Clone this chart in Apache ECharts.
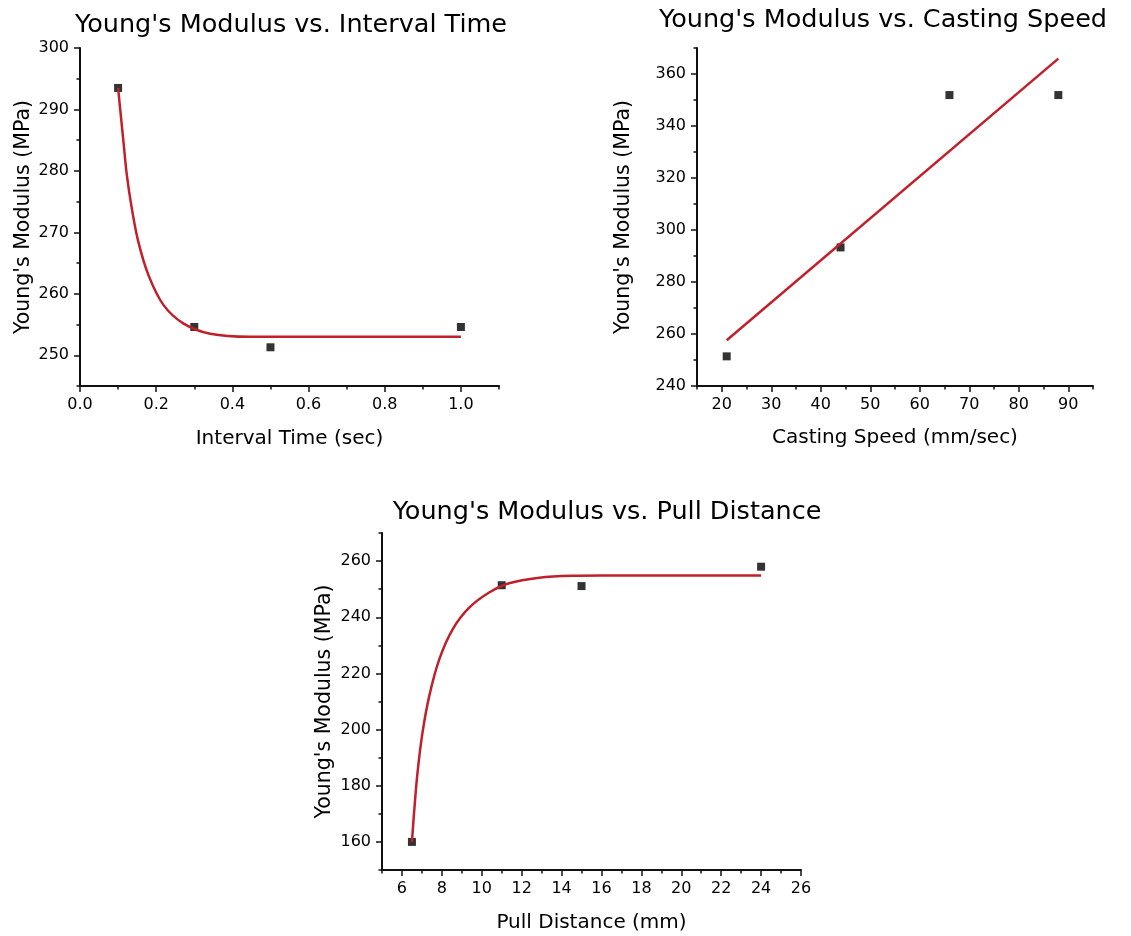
<!DOCTYPE html>
<html>
<head>
<meta charset="utf-8">
<title>Young's Modulus</title>
<script src="https://cdn.jsdelivr.net/npm/echarts@6.0.0/dist/echarts.min.js"></script>
<style>
  html, body { margin: 0; padding: 0; background: #fff; }
  #main { width: 1131px; height: 936px; }
</style>
</head>
<body>
<div id="main"></div>
<script>
// measured points
const intervalTime = [0.1, 0.3, 0.5, 1.0];
const modulusByInterval = [293.5, 254.6, 251.3, 254.6];
const castingSpeed = [21, 44, 66, 88];
const modulusBySpeed = [251.4, 293.3, 351.9, 351.9];
const pullDistance = [6.5, 11, 15, 24];
const modulusByPull = [160, 251.4, 251.1, 258.0];

// fitted curves
const intervalFit = [
  [0.1, 293.5], [0.107, 289.1], [0.114, 284.8], [0.123, 279.3], [0.136, 273.9],
  [0.153, 268.5], [0.18, 263.0], [0.219, 258.2], [0.271, 255.2], [0.342, 253.5],
  [0.447, 253.0], [0.6, 253.0], [0.8, 253.0], [1.0, 253.0]
];
const speedFit = [[21, 257.6], [88, 365.9]];
const pullFit = [
  [6.5, 160], [6.62, 171.6], [6.78, 184.7], [7.03, 198.9], [7.37, 212.0],
  [7.87, 225.0], [8.54, 235.7], [9.37, 243.4], [10.37, 248.8], [11.37, 252.1],
  [12.88, 254.1], [14.55, 254.8], [16, 254.9], [20, 254.9], [24, 254.9]
];

// tick values
const intervalTicks = [0, 0.2, 0.4, 0.6, 0.8, 1.0];
const intervalMinor = [0.1, 0.3, 0.5, 0.7, 0.9, 1.1];
const modulusTicks1 = [250, 260, 270, 280, 290, 300];
const modulusMinor1 = [245, 255, 265, 275, 285, 295];
const speedTicks = [20, 30, 40, 50, 60, 70, 80, 90];
const speedMinor = [15, 25, 35, 45, 55, 65, 75, 85, 95];
const modulusTicks2 = [240, 260, 280, 300, 320, 340, 360];
const modulusMinor2 = [250, 270, 290, 310, 330, 350, 370];
const pullTicks = [6, 8, 10, 12, 14, 16, 18, 20, 22, 24, 26];
const pullMinor = [5, 7, 9, 11, 13, 15, 17, 19, 21, 23, 25];
const modulusTicks3 = [160, 180, 200, 220, 240, 260];
const modulusMinor3 = [150, 170, 190, 210, 230, 250, 270];

const font = 'DejaVu Sans';
const ink = '#111';
const fitRed = '#c0202a';

function mainAxis(grid, pos, min, max, ticks, name, nameGap, fmt) {
  const isY = pos === 'left';
  return {
    type: 'value', gridIndex: grid, position: pos, min: min, max: max,
    name: name, nameLocation: 'middle', nameGap: nameGap,
    nameTextStyle: {fontFamily: font, fontSize: isY ? 20.5 : 20, color: '#000'},
    axisLine: {show: true, onZero: false, lineStyle: {color: ink, width: 2}},
    axisTick: {show: true, customValues: ticks, length: 6, lineStyle: {color: ink, width: 1.5}},
    axisLabel: {show: true, customValues: ticks, margin: 11, fontFamily: font, fontSize: 16, color: '#000', formatter: fmt},
    splitLine: {show: false}
  };
}

function minorAxis(grid, pos, min, max, ticks) {
  return {
    type: 'value', gridIndex: grid, position: pos, min: min, max: max,
    axisLine: {show: false, onZero: false},
    axisTick: {show: true, customValues: ticks, length: 3.5, lineStyle: {color: ink, width: 1.5}},
    axisLabel: {show: false},
    splitLine: {show: false}
  };
}

function zip(xs, ys) {
  return xs.map((x, i) => [x, ys[i]]);
}

function points(data, axis) {
  return {
    type: 'scatter', xAxisIndex: axis, yAxisIndex: axis, data: data,
    symbol: 'rect', symbolSize: 8, itemStyle: {color: '#000'}, z: 2
  };
}

function fit(data, axis) {
  return {
    type: 'line', xAxisIndex: axis, yAxisIndex: axis, data: data,
    showSymbol: false, smooth: 0.35,
    lineStyle: {color: fitRed, width: 2.5}, z: 3
  };
}

const titleStyle = {fontFamily: font, fontSize: 25.5, fontWeight: 'normal', color: '#000'};

const chart = echarts.init(document.getElementById('main'));
chart.setOption({
  backgroundColor: '#fff',
  animation: false,
  title: [
    {text: "Young's Modulus vs. Interval Time", left: 286, top: 7, textAlign: 'center', textStyle: titleStyle},
    {text: "Young's Modulus vs. Casting Speed", left: 878, top: 2, textAlign: 'center', textStyle: titleStyle},
    {text: "Young's Modulus vs. Pull Distance", left: 602, top: 494, textAlign: 'center', textStyle: titleStyle}
  ],
  grid: [
    {left: 80, top: 48, width: 419, height: 338},
    {left: 697, top: 48, width: 396, height: 338},
    {left: 382, top: 533, width: 419, height: 337}
  ],
  xAxis: [
    mainAxis(0, 'bottom', 0, 1.1, intervalTicks, 'Interval Time (sec)', 43, v => v.toFixed(1)),
    minorAxis(0, 'bottom', 0, 1.1, intervalMinor),
    mainAxis(1, 'bottom', 15, 95, speedTicks, 'Casting Speed (mm/sec)', 42),
    minorAxis(1, 'bottom', 15, 95, speedMinor),
    mainAxis(2, 'bottom', 5, 26, pullTicks, 'Pull Distance (mm)', 43),
    minorAxis(2, 'bottom', 5, 26, pullMinor)
  ],
  yAxis: [
    mainAxis(0, 'left', 245, 300, modulusTicks1, "Young's Modulus (MPa)", 46),
    minorAxis(0, 'left', 245, 300, modulusMinor1),
    mainAxis(1, 'left', 240, 370, modulusTicks2, "Young's Modulus (MPa)", 63),
    minorAxis(1, 'left', 240, 370, modulusMinor2),
    mainAxis(2, 'left', 150, 270, modulusTicks3, "Young's Modulus (MPa)", 47),
    minorAxis(2, 'left', 150, 270, modulusMinor3)
  ],
  series: [
    points(zip(intervalTime, modulusByInterval), 0),
    fit(intervalFit, 0),
    points(zip(castingSpeed, modulusBySpeed), 2),
    fit(speedFit, 2),
    points(zip(pullDistance, modulusByPull), 4),
    fit(pullFit, 4)
  ]
});
</script>
</body>
</html>
